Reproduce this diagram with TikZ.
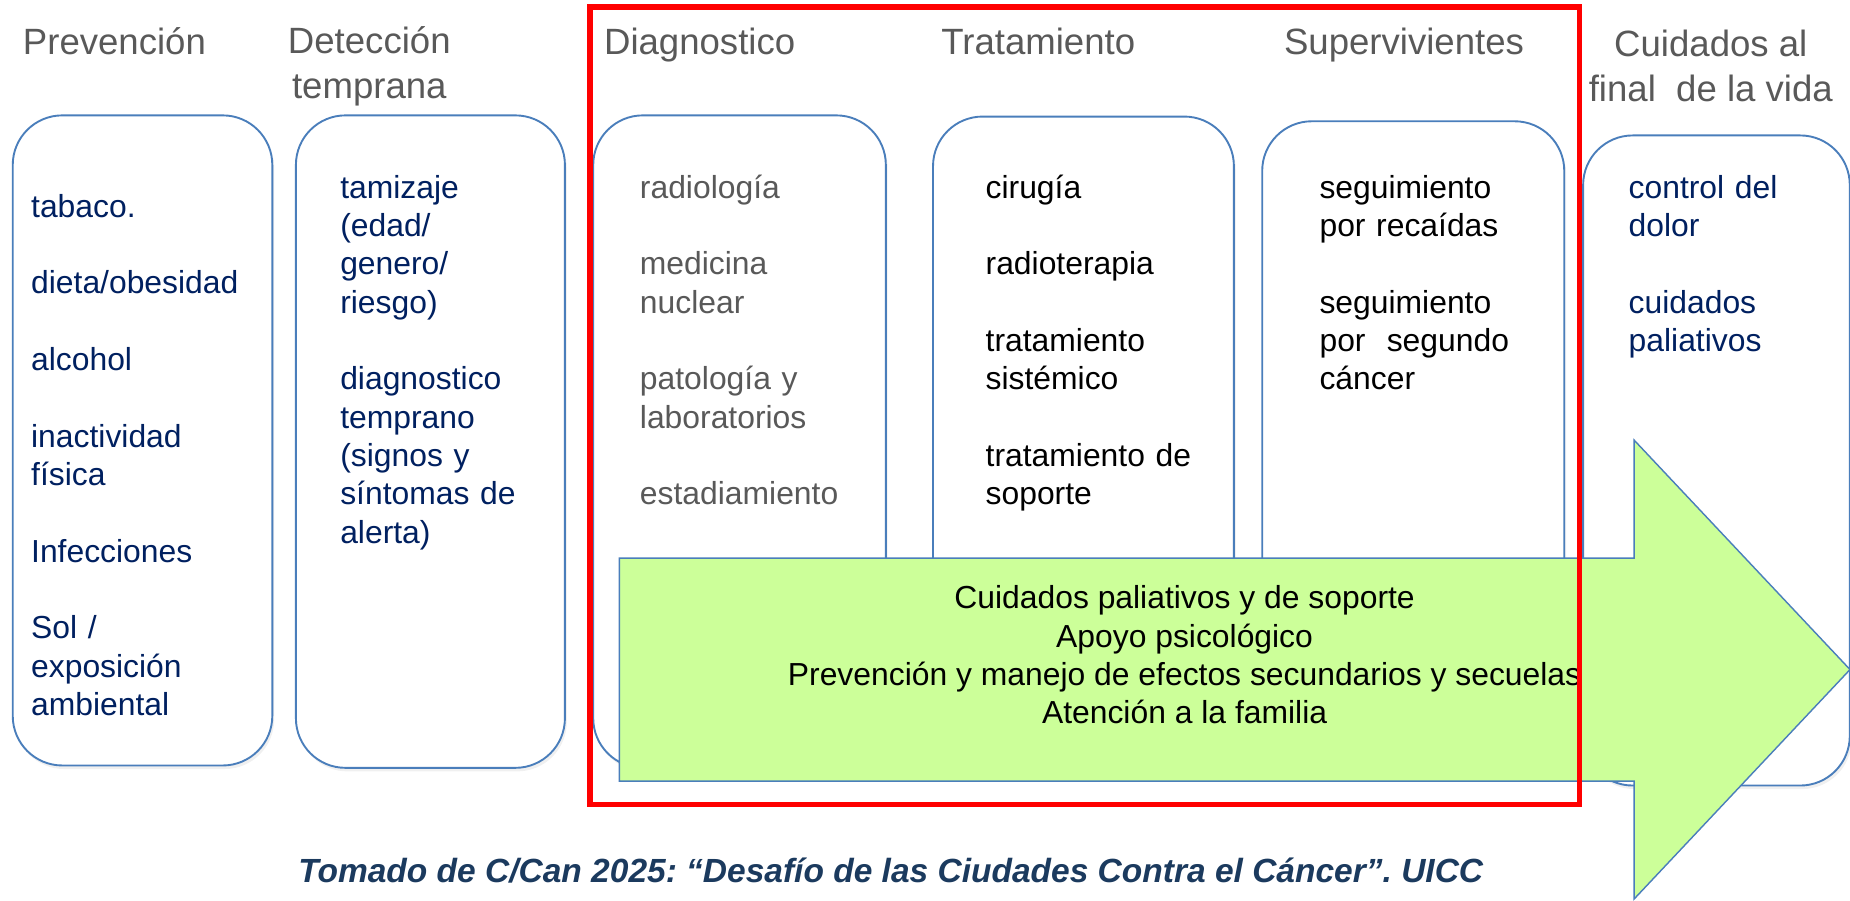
\documentclass[tikz,border=0pt]{standalone}
\usepackage{fontspec}
\setmainfont{Liberation Sans}
\usetikzlibrary{positioning, shadows}
\definecolor{boxline}{HTML}{4A7EBB}
\definecolor{headgray}{HTML}{595959}
\definecolor{navytext}{HTML}{002060}
\definecolor{capblue}{HTML}{1B3A5E}
\definecolor{arrowgreen}{HTML}{CCFF99}
\newcommand{\paragap}{\\[16.25pt]}
\frenchspacing

\begin{document}
\begin{tikzpicture}[x=0.5pt,y=-0.5pt,font=\fontsize{13.5}{16.25}\selectfont]
    \tikzstyle{stage}=[draw=boxline,line width=0.8pt,fill=white,rounded corners=21pt,anchor=north west,inner sep=0pt,drop shadow={opacity=0.12,shadow xshift=0.8pt,shadow yshift=-1.5pt}]
    \tikzstyle{head}=[text=headgray,font=\fontsize{15.5}{19}\selectfont,align=center,inner sep=0pt]
    \tikzstyle{items}=[anchor=base west,text width=110pt,align=left,inner sep=0pt]
    \tikzstyle{flow}=[draw=boxline,line width=0.6pt,fill=arrowgreen]
    \tikzstyle{focus}=[draw=red,line width=2.2pt]

    \useasboundingbox (0,0) rectangle (1568,763);

    \node[stage,minimum width=110pt,minimum height=275.5pt] (prev) at (10,97) {};
    \node[stage,minimum width=114pt,minimum height=276.5pt] (detec) at (250,97) {};
    \node[stage,minimum width=124pt,minimum height=276.5pt] (diag) at (502,97) {};
    \node[stage,minimum width=127.5pt,minimum height=275pt] (trat) at (790,98) {};
    \node[stage,minimum width=128pt,minimum height=272.5pt] (superv) at (1069,102) {};
    \node[stage,minimum width=113pt,minimum height=275.5pt] (final) at (1341,114) {};

    \node[head,anchor=base] (hprev) at (97,46) {Prevención};
    \node[head] (hdetec) at (313,56) {Detección\\temprana};
    \node[head,anchor=base] (hdiag) at (593,46) {Diagnostico};
    \node[head,anchor=base] (htrat) at (880,46) {Tratamiento};
    \node[head,anchor=base] (hsuperv) at (1190,46) {Supervivientes};
    \node[head] (hfinal) at (1450,56) {Cuidados al\\final~ de la vida};

    \node[items,text=navytext] (tprev) at (26,184) {tabaco.\paragap dieta/obesidad\paragap alcohol\paragap inactividad\\física\paragap Infecciones\paragap Sol /\\exposición\\ambiental};
    \node[items,text=navytext] (tdetec) at (288,168) {tamizaje\\(edad/\\genero/\\riesgo)\paragap diagnostico\\temprano\\(signos y\\síntomas de\\alerta)};
    \node[items,text=headgray] (tdiag) at (542,168) {radiología\paragap medicina\\nuclear\paragap patología y\\laboratorios\paragap estadiamiento};
    \node[items] (ttrat) at (835,168) {cirugía\paragap radioterapia\paragap tratamiento\\sistémico\paragap tratamiento de\\soporte};
    \node[items] (tsuperv) at (1118,168) {seguimiento\\por recaídas\paragap seguimiento\\por~ segundo\\cáncer};
    \node[items,text=navytext] (tfinal) at (1380,168) {control del\\dolor\paragap cuidados\\paliativos};

    \draw[flow] (525,473) -- (1385,473) -- (1385,373) -- (1568,567.5) -- (1385,762) -- (1385,662) -- (525,662) -- cycle;
    \node[align=center,inner sep=0pt] (care) at (1004,555) {Cuidados paliativos y de soporte\\Apoyo psicológico\\Prevención y manejo de efectos secundarios y secuelas\\Atención a la familia};

    \draw[focus] (500,6) rectangle (1339,682);

    \node[text=capblue,font=\bfseries\itshape\fontsize{14.2}{17}\selectfont] (source) at (755,738) {Tomado de C/Can 2025: “Desafío de las Ciudades Contra el Cáncer”. UICC};
\end{tikzpicture}
\end{document}
